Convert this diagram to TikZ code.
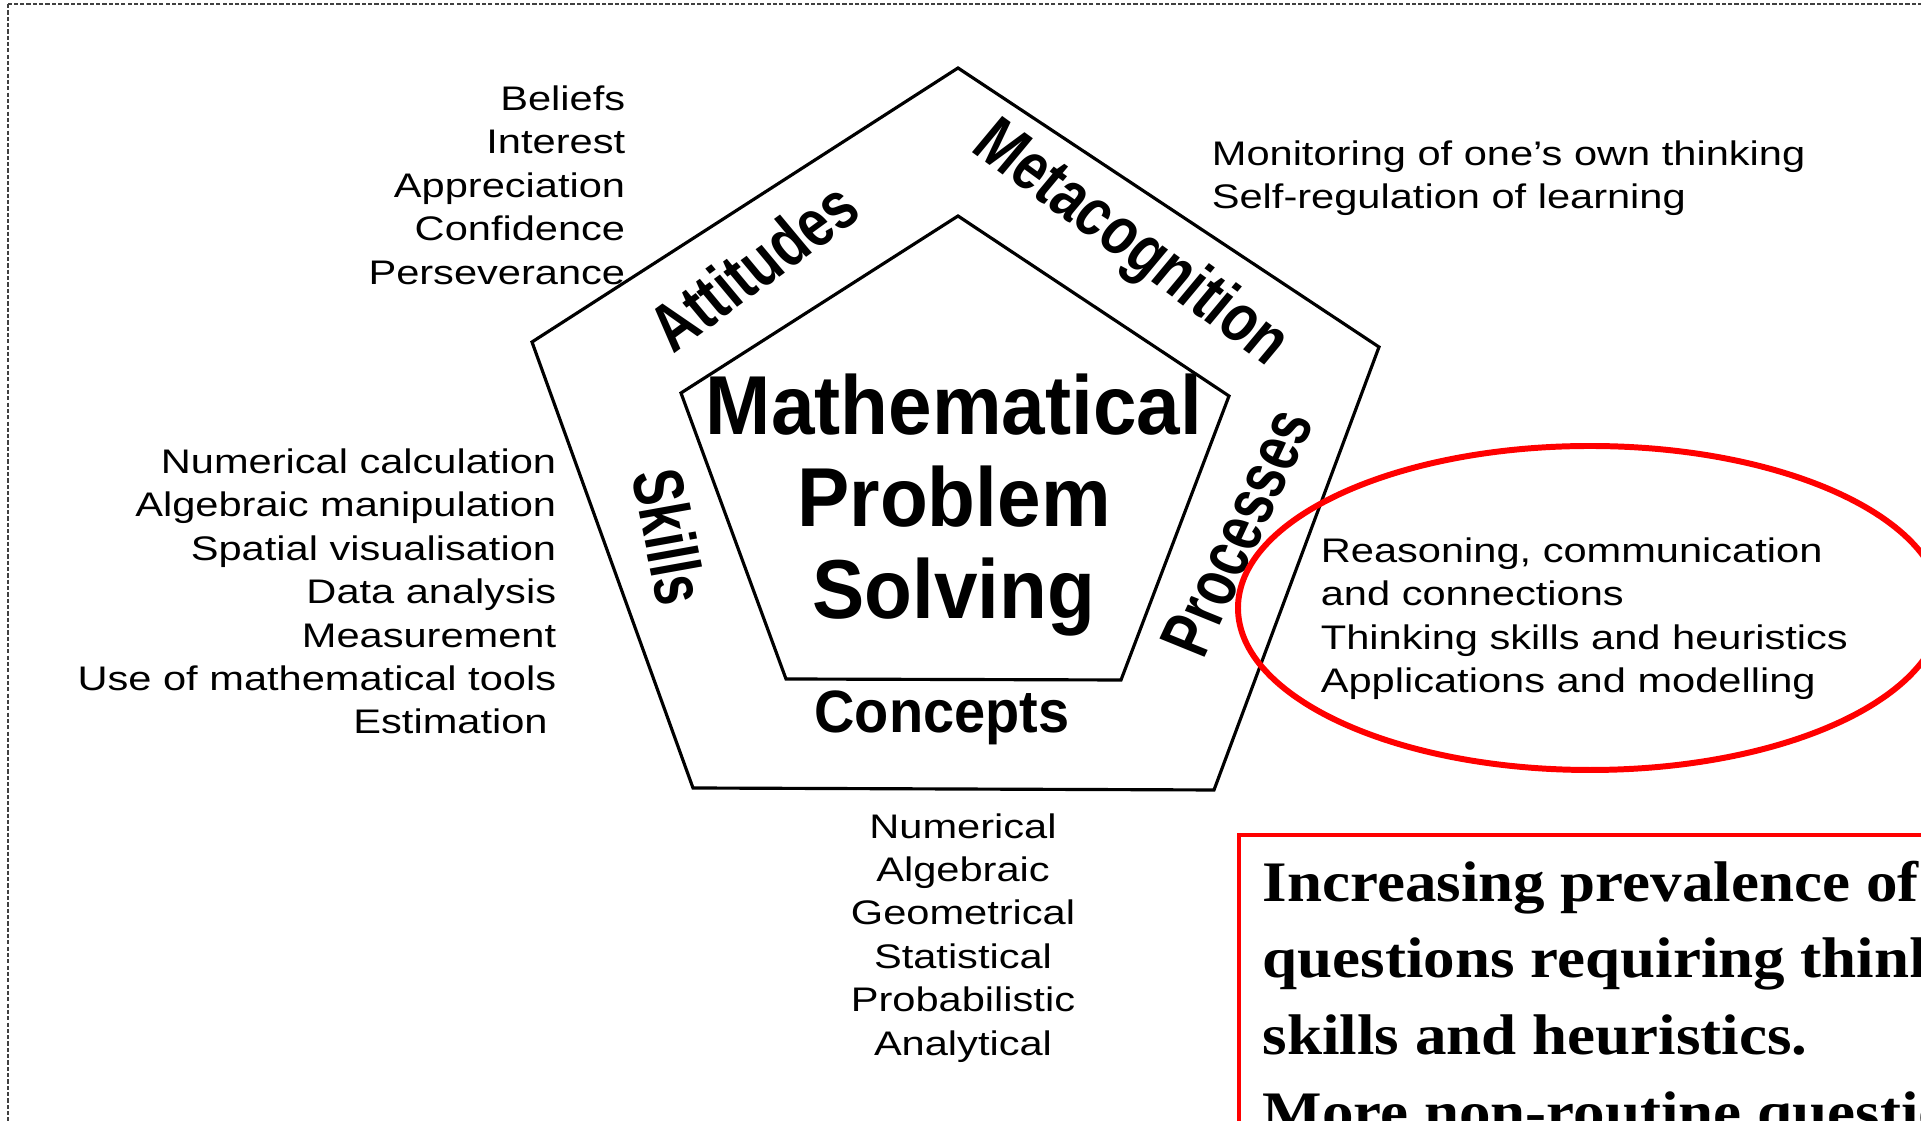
\documentclass[tikz,border=0pt]{standalone}
\usepackage{fontspec}
\newfontfamily\listfont{Liberation Sans}
\newfontfamily\partfont[FakeStretch=0.78]{Liberation Sans}
\newfontfamily\notefont{Liberation Serif}

\begin{document}
\begin{tikzpicture}[
    frame/.style={line width=.9pt, black},
    border/.style={dash pattern=on 1.2pt off .6pt, line width=.4pt, black!75},
    hilite/.style={draw=red, line width=1.7pt},
    lst/.style={font={\listfont\fontsize{9.7}{12.35}\selectfont}, inner sep=0pt, xscale=1.22},
    part/.style={font={\partfont\bfseries\fontsize{17}{20}\selectfont}, inner sep=0pt, xscale=1.2},
    tilt/.style={font={\partfont\bfseries\fontsize{19}{22}\selectfont}, inner sep=0pt, xscale=1.07},
    core/.style={font={\partfont\bfseries\fontsize{23.8}{26.2}\selectfont}, inner sep=0pt, xscale=1.2, align=center},
    note/.style={font={\notefont\bfseries\fontsize{16.3}{21.85}\selectfont}, inner sep=0pt, xscale=1.1, align=left}
  ]
    \useasboundingbox (0,0) rectangle (19.21,-11.21);
    \clip (0,0) rectangle (19.21,-11.21);
    \fill[white] (0,0) rectangle (19.21,-11.21);

    %slide frame
    \draw[border] (0.08,-0.04) rectangle (19.6,-11.6);

    % pentagons
    \draw[frame] (9.58,-0.68) -- (13.79,-3.47) -- (12.14,-7.90) -- (6.93,-7.88) -- (5.32,-3.42) -- cycle;
    \draw[frame] (9.58,-2.16) -- (12.29,-3.96) -- (11.21,-6.80) -- (7.86,-6.79) -- (6.81,-3.93) -- cycle;

    % centre
    \node[core, anchor=north] (mps) at (9.54,-3.73) {Mathematical\\Problem\\Solving};

    % the five parts
    \node[tilt, rotate=37.9] (att) at (7.53,-2.66) {Attitudes};
    \node[tilt, rotate=-37.9] (meta) at (11.30,-2.45) {Metacognition};
    \node[tilt, rotate=66.5] (proc) at (12.37,-5.32) {Processes};
    \node[tilt, rotate=-79.1] (skl) at (6.70,-5.37) {Skills};
    \node[part, anchor=north] (conc) at (9.42,-6.90) {Concepts};

    % lists round the pentagon
    \node[lst, anchor=north east, align=right] (attlist) at (6.26,-0.85)
        {Beliefs\\Interest\\Appreciation\\Confidence\\Perseverance};
    \node[lst, anchor=north west, align=left] (metalist) at (12.11,-1.40)
        {Monitoring of one’s own thinking\\Self-regulation of learning};
    \node[lst, anchor=north east, align=right] (skllist) at (5.57,-4.48)
        {Numerical calculation\\Algebraic manipulation\\Spatial visualisation\\Data analysis\\Measurement\\Use of mathematical tools\\Estimation\hspace*{.7mm}};
    \node[lst, anchor=north west, align=left] (proclist) at (13.20,-5.37)
        {Reasoning, communication\\and connections\\Thinking skills and heuristics\\Applications and modelling};
    \node[lst, anchor=north, align=center] (conclist) at (9.63,-8.127)
        {Numerical\\Algebraic\\Geometrical\\Statistical\\Probabilistic\\Analytical};

    % red marks
    \draw[hilite] (15.90,-6.08) ellipse (3.52 and 1.62);
    \draw[hilite, line width=1.4pt] (12.39,-8.35) rectangle (19.6,-11.6);
    \node[note, anchor=north west] (remark) at (12.62,-8.60)
        {Increasing prevalence of\\questions requiring thinking\\skills and heuristics.\\More non-routine questions};
\end{tikzpicture}
\end{document}
